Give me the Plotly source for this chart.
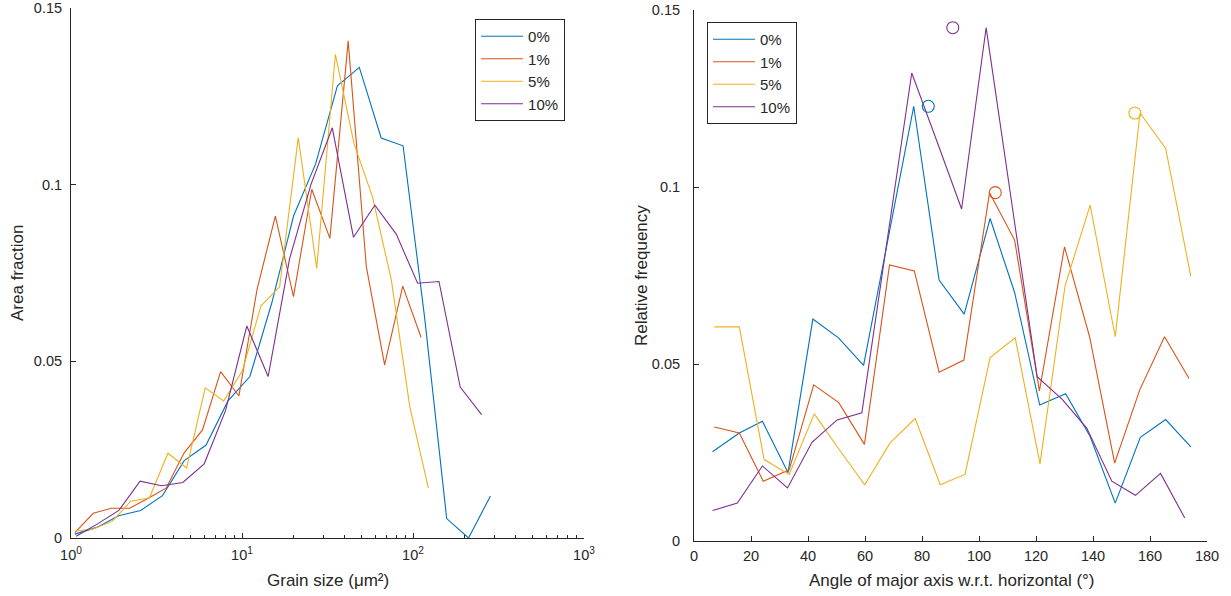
import plotly.graph_objects as go

# ---- Grain size distributions (area fraction vs grain size, log bins) ----
series_names = ["0%", "1%", "5%", "10%"]
colors = ["#0072BD", "#D95319", "#EDB120", "#7E2F8E"]

size_0 = [1.054, 1.416, 1.901, 2.553, 3.428, 4.592, 6.166, 8.279, 11.12, 14.93,
          20.04, 26.92, 36.14, 48.53, 65.16, 87.50, 117.2, 157.4, 211.3, 283.8]
area_0 = [0.0011, 0.0030, 0.0063, 0.0078, 0.0120, 0.0219, 0.0263, 0.0388, 0.0457, 0.0665,
          0.0912, 0.1058, 0.1280, 0.1332, 0.1132, 0.1110, 0.0620, 0.0055, 0.0000, 0.0119]

size_1 = [1.054, 1.349, 1.722, 2.203, 2.812, 3.597, 4.592, 5.875, 7.499, 9.594,
          12.25, 15.67, 20.00, 25.59, 32.66, 41.78, 53.33, 68.23, 87.10, 111.4]
area_1 = [0.0015, 0.0070, 0.0084, 0.0084, 0.0112, 0.0141, 0.0241, 0.0306, 0.0471, 0.0402,
          0.0704, 0.0911, 0.0683, 0.0987, 0.0848, 0.1407, 0.0768, 0.0490, 0.0713, 0.0568]

size_5 = [1.054, 1.355, 1.742, 2.234, 2.871, 3.690, 4.742, 6.095, 7.816, 10.05,
          12.91, 16.60, 21.33, 27.35, 35.16, 45.19, 58.07, 74.64, 95.72, 123.0]
area_5 = [0.0019, 0.0026, 0.0047, 0.0104, 0.0113, 0.0240, 0.0198, 0.0425, 0.0388, 0.0473,
          0.0657, 0.0711, 0.1133, 0.0763, 0.1369, 0.1116, 0.0964, 0.0731, 0.0372, 0.0141]

size_10 = [1.072, 1.429, 1.905, 2.535, 3.381, 4.508, 6.012, 8.017, 10.67, 14.22,
           18.97, 25.29, 33.72, 44.87, 59.84, 79.80, 106.4, 141.9, 188.8, 251.8]
area_10 = [0.0005, 0.0040, 0.0078, 0.0161, 0.0148, 0.0157, 0.0210, 0.0361, 0.0600, 0.0457,
           0.0790, 0.1000, 0.1161, 0.0851, 0.0942, 0.0860, 0.0721, 0.0726, 0.0427, 0.0349]

# ---- Orientation distributions (relative frequency vs angle) ----
angle_0 = [6.5, 15.9, 24.0, 33.0, 41.7, 50.7, 59.5, 68.3, 77.1, 86.0,
           94.8, 103.9, 112.5, 121.3, 130.4, 139.0, 147.8, 156.6, 165.5, 174.3]
freq_0 = [0.0252, 0.0305, 0.0338, 0.0193, 0.0627, 0.0574, 0.0496, 0.0863, 0.1228, 0.0737,
          0.0641, 0.0911, 0.0702, 0.0384, 0.0416, 0.0295, 0.0107, 0.0293, 0.0343, 0.0266]

angle_1 = [7.1, 15.9, 24.3, 33.4, 42.0, 50.8, 59.8, 68.6, 77.3, 86.0,
           94.7, 103.7, 112.5, 121.2, 130.0, 138.8, 147.6, 156.4, 165.1, 173.7]
freq_1 = [0.0322, 0.0305, 0.0169, 0.0201, 0.0441, 0.0391, 0.0273, 0.0780, 0.0763, 0.0477,
          0.0511, 0.0984, 0.0850, 0.0424, 0.0831, 0.0577, 0.0220, 0.0427, 0.0577, 0.0459]

angle_5 = [7.1, 15.9, 24.6, 33.4, 42.2, 50.8, 59.9, 68.8, 77.6, 86.4,
           95.1, 103.9, 112.7, 121.4, 130.2, 139.0, 147.8, 156.5, 165.5, 174.3]
freq_5 = [0.0605, 0.0605, 0.0230, 0.0188, 0.0359, 0.0260, 0.0159, 0.0277, 0.0346, 0.0159,
          0.0188, 0.0518, 0.0574, 0.0218, 0.0721, 0.0949, 0.0577, 0.1209, 0.1109, 0.0748]

angle_10 = [6.5, 15.2, 24.0, 32.8, 41.4, 50.2, 58.9, 67.6, 76.4, 85.2,
            93.9, 102.5, 111.3, 120.4, 129.2, 137.8, 146.6, 154.9, 163.7, 172.2]
freq_10 = [0.0086, 0.0107, 0.0212, 0.0150, 0.0279, 0.0342, 0.0362, 0.0843, 0.1322, 0.1130,
           0.0938, 0.1450, 0.0968, 0.0464, 0.0400, 0.0319, 0.0169, 0.0129, 0.0191, 0.0065]

# circles marking each series' peak frequency at its mean angle
peak_angle = [82.2, 105.7, 154.7, 90.8]
peak_freq = [0.1228, 0.0984, 0.1209, 0.1450]

sizes = [size_0, size_1, size_5, size_10]
areas = [area_0, area_1, area_5, area_10]
angles = [angle_0, angle_1, angle_5, angle_10]
freqs = [freq_0, freq_1, freq_5, freq_10]

FONT = "Liberation Sans, Arial, Helvetica, sans-serif"
INK = "#262626"

fig = go.Figure()

for name, col, xs, ys in zip(series_names, colors, sizes, areas):
    fig.add_trace(go.Scatter(x=xs, y=ys, mode="lines", name=name,
                             line=dict(color=col, width=1.1),
                             xaxis="x", yaxis="y", legend="legend"))

for name, col, xs, ys in zip(series_names, colors, angles, freqs):
    fig.add_trace(go.Scatter(x=xs, y=ys, mode="lines", name=name,
                             line=dict(color=col, width=1.1),
                             xaxis="x2", yaxis="y2", legend="legend2"))

for col, xa, ya in zip(colors, peak_angle, peak_freq):
    fig.add_trace(go.Scatter(x=[xa], y=[ya], mode="markers", showlegend=False,
                             marker=dict(symbol="circle-open", size=12, color=col,
                                         line=dict(width=1.1, color=col)),
                             cliponaxis=False, xaxis="x2", yaxis="y2"))

axis_common = dict(showline=True, linecolor=INK, linewidth=1, mirror=False,
                   ticks="inside", ticklen=5, tickcolor=INK, tickwidth=1,
                   showgrid=False, zeroline=False, automargin=False,
                   tickfont=dict(family=FONT, size=14.5, color=INK))

log_ticks = [1, 10, 100, 1000]
log_tick_text = ["10<sup>0</sup>", "10<sup>1</sup>", "10<sup>2</sup>", "10<sup>3</sup>"]
log_minor = [m * d for d in (1, 10, 100) for m in range(2, 10)]

y_ticks = [0, 0.05, 0.1, 0.15]
y_tick_text = ["0", "0.05", "0.1", "0.15"]

legend_common = dict(xanchor="left", yanchor="top", bordercolor=INK, borderwidth=1,
                     bgcolor="white", itemwidth=42, tracegroupgap=0,
                     font=dict(family=FONT, size=15, color=INK))

fig.update_layout(
    width=1231, height=596,
    margin=dict(l=0, r=0, t=0, b=0),
    paper_bgcolor="white", plot_bgcolor="white",
    font=dict(family=FONT, color=INK),
    xaxis=dict(axis_common, type="log", range=[0, 3], domain=[0.05768, 0.47441],
               tickvals=log_ticks, ticktext=log_tick_text, ticklabelstandoff=4,
               minor=dict(tickvals=log_minor, ticks="inside", ticklen=3,
                          tickcolor=INK, showgrid=False),
               anchor="y"),
    yaxis=dict(axis_common, range=[0, 0.15], domain=[0.09732, 0.98658],
               tickvals=y_ticks, ticktext=y_tick_text, ticklabelstandoff=5,
               anchor="x"),
    xaxis2=dict(axis_common, range=[0, 180], domain=[0.56377, 0.98050],
                tickvals=list(range(0, 181, 20)), ticklabelstandoff=2, anchor="y2"),
    yaxis2=dict(axis_common, range=[0, 0.15], domain=[0.09228, 0.98322],
                tickvals=y_ticks, ticktext=y_tick_text, ticklabelstandoff=10,
                anchor="x2"),
    legend=dict(legend_common, x=0.3859, y=0.968),
    legend2=dict(legend_common, x=0.5743, y=0.963),
)

label_font = dict(family=FONT, size=17, color=INK)
fig.add_annotation(text="Grain size (\u03bcm\u00b2)", x=328, y=580)
fig.add_annotation(text="Angle of major axis w.r.t. horizontal (\u00b0)", x=952, y=580)
fig.add_annotation(text="Area fraction", x=17, y=273, textangle=-90)
fig.add_annotation(text="Relative frequency", x=641, y=276, textangle=-90)

# convert the pixel placements of the axis labels into paper coordinates
for ann in fig.layout.annotations:
    ann.update(x=ann.x / 1231, y=1 - ann.y / 596, xref="paper", yref="paper",
               xanchor="center", yanchor="middle", showarrow=False, font=label_font)

fig.write_html("out.html")
